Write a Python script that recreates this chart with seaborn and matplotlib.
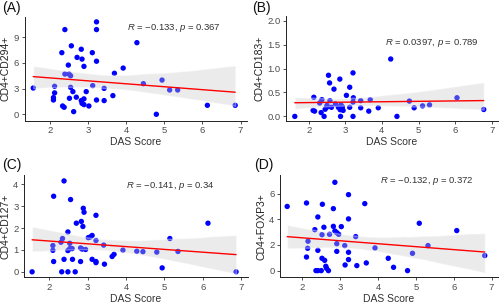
import numpy as np
import pandas as pd
import matplotlib
matplotlib.use("Agg")
import matplotlib.pyplot as plt
import seaborn as sns

# ---- data ----
das_a = [1.56, 2.39, 3.22, 3.22, 2.56, 2.31, 2.82, 3.11, 2.71, 2.84, 3.22, 2.48, 2.89,
         2.39, 2.50, 2.54, 2.54, 2.12, 2.12, 2.09, 2.09, 2.60, 2.51, 2.69, 2.95, 3.12,
         2.82, 2.89, 2.84, 2.89, 3.02, 2.33, 2.37, 2.62, 3.22, 3.42, 3.42, 3.65, 3.69,
         3.92, 4.28, 4.45, 4.79, 4.94, 5.14, 5.35, 6.13, 6.86]
cd294 = [3.07, 9.9, 10.8, 9.9, 8.0, 7.2, 7.6, 7.2, 6.65, 6.45, 6.2, 5.75, 5.6,
         4.7, 4.7, 4.5, 3.15, 3.27, 2.5, 1.95, 1.67, 2.65, 1.87, 2.0, 2.65, 3.35,
         1.6, 1.8, 1.28, 1.13, 0.97, 0.97, 0.82, 0.31, 1.67, 3.03, 1.6, 2.18, 4.79,
         5.4, 8.37, 3.58, 0.0, 4.0, 2.84, 2.84, 1.05, 1.05]

das_b = [1.62, 2.14, 2.12, 2.16, 2.34, 2.36, 2.30, 2.42, 2.45, 2.49, 2.54, 2.57, 2.58,
         2.62, 2.69, 2.73, 2.85, 2.81, 2.86, 2.88, 2.87, 2.94, 3.03, 3.12, 3.12, 3.21,
         3.22, 3.21, 3.21, 3.42, 3.42, 3.64, 3.68, 3.90, 4.24, 4.41, 4.75, 4.88, 5.11,
         5.30, 6.05, 6.78, 2.50, 2.92]
cd183 = [0.0, 0.40, 0.125, 0.11, 0.08, 0.35, 0.28, 0.0, 0.15, 0.19, 0.86, 0.70, 0.33,
         0.19, 0.57, 0.26, 0.78, 0.19, 0.14, 0.24, 0.0, 0.125, 0.44, 0.61, 0.19, 0.91,
         0.39, 0.30, 0.0, 0.33, 0.18, 0.11, 0.35, 0.18, 1.20, 0.0, 0.32, 0.18, 0.22,
         0.24, 0.39, 0.145, 0.23, 0.20]

das_c = [1.56, 2.39, 2.12, 2.56, 2.89, 2.91, 3.22, 2.71, 2.84, 2.88, 2.49, 2.35, 2.31,
         2.10, 2.10, 2.54, 2.49, 2.54, 2.60, 2.82, 2.86, 2.95, 3.02, 3.07, 3.12, 3.22,
         3.42, 2.12, 2.39, 2.61, 2.82, 3.12, 3.22, 3.22, 3.44, 2.33, 2.49, 2.68, 3.64,
         3.69, 3.92, 4.28, 4.44, 4.80, 4.94, 5.14, 5.35, 6.13, 6.86]
cd127 = [0.0, 4.15, 3.45, 3.3, 2.9, 2.72, 2.58, 2.22, 2.3, 2.07, 1.82, 1.52, 1.35,
         1.2, 0.98, 1.3, 0.97, 1.06, 1.06, 1.09, 1.04, 1.02, 1.56, 1.59, 1.66, 1.43,
         1.22, 0.47, 0.57, 0.57, 0.47, 0.57, 0.47, 0.42, 0.35, 0.0, 0.0, 0.0, 0.7,
         0.8, 0.99, 0.94, 0.92, 0.9, 0.18, 1.52, 0.93, 2.22, 0.0]

das_d = [1.60, 2.11, 2.53, 2.86, 3.22, 3.65, 2.82, 2.41, 3.22, 2.33, 2.57, 2.82, 2.86,
         2.91, 2.96, 2.72, 2.52, 3.03, 2.15, 2.14, 2.41, 2.91, 2.91, 3.12, 3.22, 3.41,
         3.92, 2.11, 2.52, 2.59, 3.22, 3.13, 3.69, 3.44, 2.36, 2.41, 2.50, 2.62, 2.64,
         2.69, 4.27, 4.41, 4.78, 4.91, 5.09, 5.32, 6.08, 6.82]
foxp3 = [5.0, 5.27, 5.17, 6.88, 5.92, 5.22, 4.83, 4.18, 4.03, 3.19, 3.38, 3.45, 3.09,
         2.96, 2.83, 2.83, 2.8, 3.43, 2.29, 1.74, 1.58, 2.1, 1.5, 1.95, 1.43, 2.65,
         1.77, 1.06, 0.96, 0.8, 0.86, 0.44, 0.6, 0.39, 0.0, 0.0, 0.0, 0.34, 0.18,
         0.0, 0.96, 0.26, 0.0, 1.35, 3.69, 1.95, 3.12, 1.17]

panel_labels = ["(A)", "(B)", "(C)", "(D)"]
y_titles = ["CD4+CD294+", "CD4+CD183+", "CD4+CD127+", "CD4+FOXP3+"]
stat_texts = ["$R$ = \u22120.133, $p$ = 0.367",
              "$R$ = 0.0397, $p$ = 0.789",
              "$R$ = \u22120.141, $p$ = 0.34",
              "$R$ = \u22120.132, $p$ = 0.372"]
x_title = "DAS Score"
x_ticks = [2, 3, 4, 5, 6, 7]
y_ticks = [[0, 3, 6, 9], [0.0, 0.5, 1.0, 1.5, 2.0], [0, 1, 2, 3, 4], [0, 2, 4, 6]]
y_ticklabels = [["0", "3", "6", "9"], ["0.0", "0.5", "1.0", "1.5", "2.0"],
                ["0", "1", "2", "3", "4"], ["0", "2", "4", "6"]]

# ---- style ----
sns.set_theme(style="ticks")
plt.rcParams["font.family"] = ["Liberation Sans", "DejaVu Sans"]
plt.rcParams["mathtext.fontset"] = "custom"
plt.rcParams["mathtext.rm"] = "Liberation Sans"
plt.rcParams["mathtext.it"] = "Liberation Sans:italic"
plt.rcParams["axes.unicode_minus"] = True

W, H = 500, 308
fig = plt.figure(figsize=(W / 100, H / 100), dpi=100)

def frac(l, r, t, b):
    return [l / W, 1 - b / H, (r - l) / W, (b - t) / H]

boxes = [frac(24.5, 247, 17, 120.7), frac(286, 498, 15.5, 120.7),
         frac(24, 248, 175, 277.3), frac(280, 498, 175, 277.3)]
ylims = [(-0.75, 11.37), (-0.09, 2.11), (-0.25, 4.42), (-0.52, 7.45)]
xlims = [(1.33, 7.17), (1.38, 7.17), (1.35, 7.17), (1.41, 7.17)]
text_pos = [(0.46, 0.897), (0.467, 0.736), (0.455, 0.895), (0.459, 0.938)]
label_pos = [(2, 1), (252, 1), (2, 158), (254, 158)]

datasets = [(das_a, cd294), (das_b, cd183), (das_c, cd127), (das_d, foxp3)]

for i, (xs, ys) in enumerate(datasets):
    ax = fig.add_axes(boxes[i])
    df = pd.DataFrame({"DAS": xs, "val": ys})
    sns.regplot(data=df, x="DAS", y="val", ax=ax, seed=0, n_boot=1000,
                scatter_kws=dict(s=15, color="#0000FF", linewidths=0,
                                 edgecolors="none", alpha=1),
                line_kws=dict(color="#FF0000", lw=1.0))
    band = ax.collections[-1]
    band.set_facecolor("#C8C8C8")
    band.set_alpha(0.35)
    ax.set_xlim(*xlims[i])
    ax.set_ylim(*ylims[i])
    ax.set_xticks(x_ticks)
    ax.set_yticks(y_ticks[i])
    ax.set_yticklabels(y_ticklabels[i])
    ax.set_xlabel(x_title, fontsize=7.5, color="#333333", labelpad=1.5)
    ax.set_ylabel(y_titles[i], fontsize=7.5, color="#222222", labelpad=2)
    ax.tick_params(axis="both", length=2.5, width=0.6, color="#333333",
                   labelcolor="#4D4D4D", labelsize=6.8, pad=1.5)
    for s in ["left", "bottom"]:
        ax.spines[s].set_linewidth(0.7)
        ax.spines[s].set_color("#222222")
    sns.despine(ax=ax)
    ax.text(text_pos[i][0], text_pos[i][1], stat_texts[i], transform=ax.transAxes,
            fontsize=6.8, color="#333333", ha="left", va="center")
    fig.text(label_pos[i][0] / W, 1 - label_pos[i][1] / H, panel_labels[i],
             fontsize=10, color="#111111", ha="left", va="top")

fig.savefig("out.png", dpi=100)
